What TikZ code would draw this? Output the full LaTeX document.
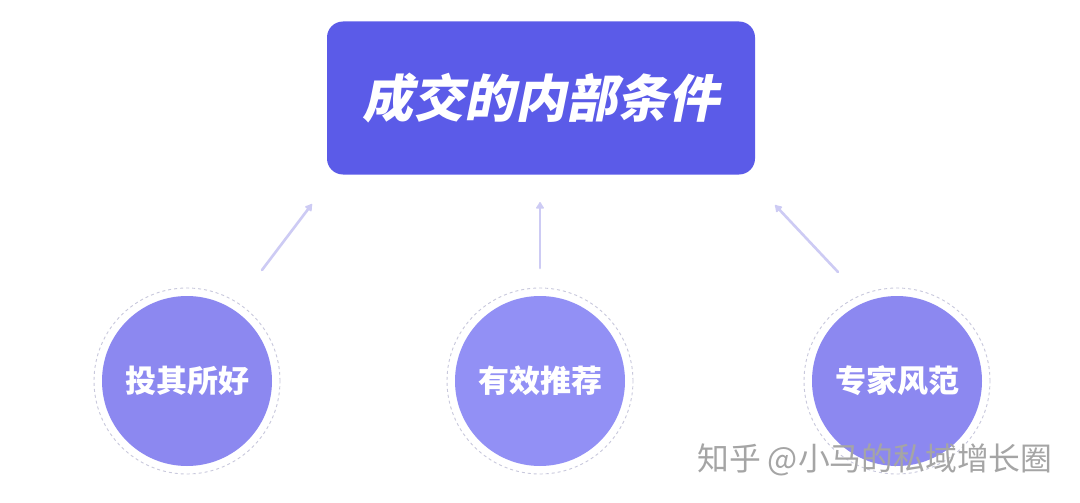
\documentclass[tikz,border=0pt]{standalone}
\usepackage{fontspec}
\newfontfamily\cjk{Noto Sans CJK SC}
\newfontfamily\cjktitle{Noto Sans CJK SC}[FakeSlant=0.2]
\usetikzlibrary{arrows.meta}
\definecolor{boxblue}{RGB}{91,91,232}
\definecolor{circfill}{RGB}{140,136,240}
\definecolor{circfillb}{RGB}{146,144,245}
\definecolor{dashgray}{RGB}{200,200,220}
\definecolor{arrowlav}{RGB}{205,203,244}
\definecolor{wmgray}{RGB}{165,165,165}
\tikzset{
  titlebox/.style={fill=boxblue, rounded corners=16pt, minimum width=428pt, minimum height=153pt, inner sep=0pt, text=white, font=\cjktitle\bfseries\fontsize{51}{51}\selectfont},
  bubble/.style={circle, minimum size=170pt, inner sep=0pt, text=white, font=\cjk\bfseries\fontsize{31}{31}\selectfont},
  ring/.style={circle, draw=dashgray, dashed, line width=0.9pt, minimum size=186pt, inner sep=0pt},
  link/.style={draw=arrowlav, line width=2.6pt, line cap=round, -{Latex[length=8pt,width=10pt,round]}},
}
\begin{document}
\begin{tikzpicture}[x=1pt,y=-1pt]
\useasboundingbox (0,0) rectangle (1080,503);
\fill[white] (0,0) rectangle (1080,503);
\node[titlebox] (title) at (541,98) {成交的内部条件};
\node[ring] (r1) at (187,381) {};
\node[ring] (r2) at (540,381) {};
\node[ring] (r3) at (897,381) {};
\node[bubble, fill=circfill] (c1) at (187,381) {投其所好};
\node[bubble, fill=circfillb] (c2) at (540,381) {有效推荐};
\node[bubble, fill=circfill] (c3) at (897,381) {专家风范};
\coordinate (s1) at (262,270);
\coordinate (e1) at (312,204);
\coordinate (s2) at (540,268);
\coordinate (e2) at (540,202);
\coordinate (s3) at (838,272);
\coordinate (e3) at (775,205);
\draw[link] (s1) -- (e1);
\draw[link] (s2) -- (e2);
\draw[link] (s3) -- (e3);
\node[anchor=west, text=wmgray, font=\cjk\fontsize{31.8}{31.8}\selectfont, inner sep=0pt] (wm) at (697,460) {知乎 @小马的私域增长圈};
\end{tikzpicture}
\end{document}
